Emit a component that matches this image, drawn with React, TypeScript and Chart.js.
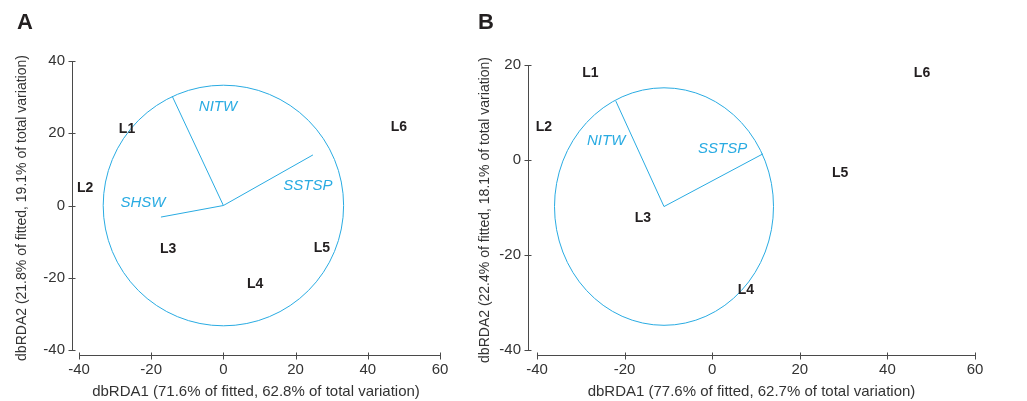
import React, { useEffect, useRef } from "react";
import { Chart, registerables } from "chart.js";

Chart.register(...registerables);

const FONT = "'Liberation Sans', Arial, Helvetica, sans-serif";
const BLUE = "#29abe2";
const INK = "#231f20";
const AXIS = "#4a4a4a";

// ---------- Panel A ----------
const aXTicks = [-40, -20, 0, 20, 40, 60];
const aYTicks = [-40, -20, 0, 20, 40];
const aSiteNames = ["L1", "L2", "L3", "L4", "L5", "L6"];
const aSiteX = [-26.7, -38.3, -15.3, 8.8, 27.3, 48.6];
const aSiteY = [21.2, 4.8, -12.0, -21.7, -11.8, 21.7];
const aVarNames = ["NITW", "SSTSP", "SHSW"];
const aVarX = [-14.2, 24.8, -17.3];
const aVarY = [30.3, 14.0, -3.2];
const aVarLabelX = [-1.5, 23.4, -22.3];
const aVarLabelY = [27.3, 5.4, 0.7];
const aOrigin = [0, 0];
const aCircleRadius = 33.3;
const aXTitle = "dbRDA1 (71.6% of fitted, 62.8% of total variation)";
const aYTitle = "dbRDA2 (21.8% of fitted, 19.1% of total variation)";

// ---------- Panel B ----------
const bXTicks = [-40, -20, 0, 20, 40, 60];
const bYTicks = [-40, -20, 0, 20];
const bSiteNames = ["L1", "L2", "L3", "L4", "L5", "L6"];
const bSiteX = [-27.8, -38.4, -15.8, 7.7, 29.2, 47.9];
const bSiteY = [18.3, 6.9, -12.2, -27.4, -2.7, 18.3];
const bVarNames = ["NITW", "SSTSP"];
const bVarX = [-22.0, 11.6];
const bVarY = [12.4, 1.3];
const bVarLabelX = [-24.2, 2.4];
const bVarLabelY = [4.0, 2.3];
const bOrigin = [-11.0, -9.8];
const bCircleRadius = 25;
const bXTitle = "dbRDA1 (77.6% of fitted, 62.7% of total variation)";
const bYTitle = "dbRDA2 (22.4% of fitted, 18.1% of total variation)";

type PanelProps = {
  left: number;
  width: number;
  height: number;
  xMin: number;
  xMax: number;
  yMin: number;
  yMax: number;
  yAxisWidth: number;
  xAxisHeight: number;
  padTop: number;
  padRight: number;
  yTitlePad: number;
  xTicks: number[];
  yTicks: number[];
  siteNames: string[];
  siteX: number[];
  siteY: number[];
  varNames: string[];
  varX: number[];
  varY: number[];
  varLabelX: number[];
  varLabelY: number[];
  origin: number[];
  radius: number;
  xTitle: string;
  yTitle: string;
};

function Panel(p: PanelProps) {
  const ref = useRef<HTMLCanvasElement | null>(null);
  useEffect(() => {
    const canvas = ref.current;
    if (!canvas) return;

    const decor = {
      id: "decor",
      beforeDatasetsDraw(chart: any) {
        const { ctx } = chart;
        const xs = chart.scales.x;
        const ys = chart.scales.y;
        ctx.save();
        // circle
        const cx = xs.getPixelForValue(p.origin[0]);
        const cy = ys.getPixelForValue(p.origin[1]);
        const rx = Math.abs(xs.getPixelForValue(p.origin[0] + p.radius) - cx);
        const ry = Math.abs(ys.getPixelForValue(p.origin[1] + p.radius) - cy);
        ctx.beginPath();
        ctx.ellipse(cx, cy, rx, ry, 0, 0, Math.PI * 2);
        ctx.strokeStyle = BLUE;
        ctx.lineWidth = 1;
        ctx.stroke();

        // axes
        ctx.strokeStyle = AXIS;
        ctx.lineWidth = 1;
        const ax = Math.round(chart.chartArea.left) + 0.5;
        const ay = Math.round(chart.chartArea.bottom) + 0.5;
        const y0 = ys.getPixelForValue(p.yTicks[0]);
        const y1 = ys.getPixelForValue(p.yTicks[p.yTicks.length - 1]);
        ctx.beginPath();
        ctx.moveTo(ax, y0);
        ctx.lineTo(ax, y1);
        p.yTicks.forEach((v) => {
          const py = Math.round(ys.getPixelForValue(v)) + 0.5;
          ctx.moveTo(ax - 4, py);
          ctx.lineTo(ax + 3, py);
        });
        const x0 = xs.getPixelForValue(p.xTicks[0]);
        const x1 = xs.getPixelForValue(p.xTicks[p.xTicks.length - 1]);
        ctx.moveTo(x0, ay);
        ctx.lineTo(x1, ay);
        p.xTicks.forEach((v) => {
          const px = Math.round(xs.getPixelForValue(v)) + 0.5;
          ctx.moveTo(px, ay - 3);
          ctx.lineTo(px, ay + 4);
        });
        ctx.stroke();
        ctx.restore();
      },
      afterDatasetsDraw(chart: any) {
        const { ctx } = chart;
        const xs = chart.scales.x;
        const ys = chart.scales.y;
        ctx.save();
        ctx.textAlign = "center";
        ctx.textBaseline = "middle";
        ctx.fillStyle = INK;
        ctx.font = `bold 14px ${FONT}`;
        p.siteNames.forEach((n, i) => {
          ctx.fillText(n, xs.getPixelForValue(p.siteX[i]), ys.getPixelForValue(p.siteY[i]));
        });
        ctx.fillStyle = BLUE;
        ctx.font = `italic 15px ${FONT}`;
        p.varNames.forEach((n, i) => {
          ctx.fillText(n, xs.getPixelForValue(p.varLabelX[i]), ys.getPixelForValue(p.varLabelY[i]));
        });
        ctx.restore();
      },
    };

    const vectorSets = p.varNames.map((n, i) => ({
      label: n,
      data: [
        { x: p.origin[0], y: p.origin[1] },
        { x: p.varX[i], y: p.varY[i] },
      ],
      showLine: true,
      borderColor: BLUE,
      borderWidth: 1,
      pointRadius: 0,
      fill: false,
    }));
    const siteSet = {
      label: "sites",
      data: p.siteNames.map((_, i) => ({ x: p.siteX[i], y: p.siteY[i] })),
      pointRadius: 0,
      showLine: false,
    };

    const tickFont = { family: FONT, size: 15 };
    const yTitleFont = { family: FONT, size: 14 };
    const chart = new Chart(canvas, {
      type: "scatter",
      data: { datasets: [...vectorSets, siteSet] as any },
      options: {
        animation: false,
        responsive: false,
        maintainAspectRatio: false,
        events: [],
        layout: { padding: { top: p.padTop, right: p.padRight, bottom: 0, left: 0 } },
        plugins: { legend: { display: false }, tooltip: { enabled: false } },
        scales: {
          x: {
            type: "linear",
            min: p.xMin,
            max: p.xMax,
            afterBuildTicks: (s: any) => {
              s.ticks = p.xTicks.map((v) => ({ value: v }));
            },
            afterFit: (s: any) => {
              s.height = p.xAxisHeight;
            },
            grid: { display: false, drawTicks: true, tickLength: 4 },
            border: { display: false },
            ticks: { font: tickFont, color: "#333333", padding: 2, maxRotation: 0, autoSkip: false },
            title: {
              display: true,
              text: p.xTitle,
              font: tickFont,
              color: "#333333",
              padding: { top: 0, bottom: 0 },
            },
          },
          y: {
            type: "linear",
            min: p.yMin,
            max: p.yMax,
            afterBuildTicks: (s: any) => {
              s.ticks = p.yTicks.map((v) => ({ value: v }));
            },
            afterFit: (s: any) => {
              s.width = p.yAxisWidth;
            },
            grid: { display: false, drawTicks: true, tickLength: 4 },
            border: { display: false },
            ticks: { font: tickFont, color: "#333333", padding: 3, autoSkip: false },
            title: {
              display: true,
              text: p.yTitle,
              font: yTitleFont,
              color: "#333333",
              padding: { top: p.yTitlePad, bottom: 0 },
            },
          },
        },
      },
      plugins: [decor],
    } as any);
    return () => chart.destroy();
  }, []);

  return (
    <canvas
      ref={ref}
      width={p.width}
      height={p.height}
      style={{ position: "absolute", left: p.left, top: 0, width: p.width, height: p.height }}
    />
  );
}

export default function App() {
  const letter: React.CSSProperties = {
    position: "absolute",
    top: 9,
    fontFamily: FONT,
    fontWeight: "bold",
    fontSize: 22,
    color: INK,
    lineHeight: "26px",
  };
  return (
    <div style={{ position: "fixed", left: 0, top: 0, width: 1027, height: 401, background: "#fff", overflow: "hidden" }}>
      <Panel
        left={0}
        width={470}
        height={401}
        xMin={-41.94}
        xMax={60}
        yMin={-41.38}
        yMax={40}
        yAxisWidth={72}
        xAxisHeight={46}
        padTop={61}
        padRight={30}
        yTitlePad={14}
        xTicks={aXTicks}
        yTicks={aYTicks}
        siteNames={aSiteNames}
        siteX={aSiteX}
        siteY={aSiteY}
        varNames={aVarNames}
        varX={aVarX}
        varY={aVarY}
        varLabelX={aVarLabelX}
        varLabelY={aVarLabelY}
        origin={aOrigin}
        radius={aCircleRadius}
        xTitle={aXTitle}
        yTitle={aYTitle}
      />
      <Panel
        left={470}
        width={557}
        height={401}
        xMin={-42.05}
        xMax={60}
        yMin={-41.05}
        yMax={20}
        yAxisWidth={58}
        xAxisHeight={46}
        padTop={65}
        padRight={52}
        yTitlePad={7}
        xTicks={bXTicks}
        yTicks={bYTicks}
        siteNames={bSiteNames}
        siteX={bSiteX}
        siteY={bSiteY}
        varNames={bVarNames}
        varX={bVarX}
        varY={bVarY}
        varLabelX={bVarLabelX}
        varLabelY={bVarLabelY}
        origin={bOrigin}
        radius={bCircleRadius}
        xTitle={bXTitle}
        yTitle={bYTitle}
      />
      <div style={{ ...letter, left: 17 }}>A</div>
      <div style={{ ...letter, left: 478 }}>B</div>
    </div>
  );
}
